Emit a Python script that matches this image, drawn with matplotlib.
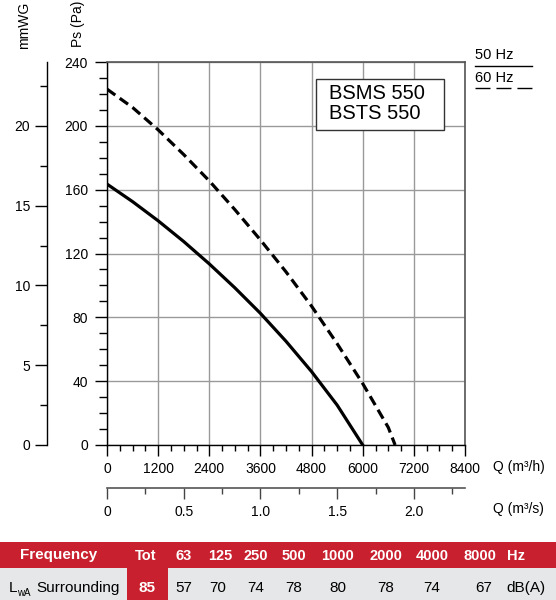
import matplotlib
matplotlib.use("Agg")
import matplotlib.pyplot as plt
from matplotlib.lines import Line2D
from matplotlib.patches import Rectangle
from matplotlib.ticker import MultipleLocator, FixedLocator

plt.rcParams['font.family'] = ['Liberation Sans', 'DejaVu Sans']

# ---- data ----
q_50hz = [0, 600, 1200, 1800, 2400, 3000, 3600, 4200, 4800, 5400, 6000]
ps_50hz = [163.5, 152.5, 140.5, 127.5, 113.5, 98.5, 82.5, 65, 46, 25, 0]
q_60hz = [0, 600, 1200, 1800, 2400, 3000, 3600, 4200, 4800, 5400, 6000, 6600, 6760]
ps_60hz = [223, 211.5, 197.5, 182, 165.5, 147.5, 128.5, 108.5, 87, 63.5, 38.5, 11, 0]

model_names = ["BSMS 550", "BSTS 550"]
legend_labels = ["50 Hz", "60 Hz"]

freq_labels = ["63", "125", "250", "500", "1000", "2000", "4000", "8000"]
lwa_values = [57, 70, 74, 78, 80, 78, 74, 67]
lwa_total = 85

W, H = 556, 600
fig = plt.figure(figsize=(W / 100, H / 100), dpi=100)


def fx(x):
    return x / W


def fy(y):
    return 1 - y / H


# ---- main axes ----
ax = fig.add_axes([fx(107), fy(445), 358 / W, 383 / H])
ax.plot(q_50hz, ps_50hz, color='black', lw=2.3, solid_joinstyle='round', zorder=3)
ax.plot(q_60hz, ps_60hz, color='black', lw=2.3, linestyle=(0, (3.2, 1.7)), zorder=3)
ax.set_xlim(0, 8400)
ax.set_ylim(0, 240)
ax.xaxis.set_major_locator(MultipleLocator(1200))
ax.xaxis.set_minor_locator(MultipleLocator(300))
ax.yaxis.set_major_locator(MultipleLocator(40))
ax.yaxis.set_minor_locator(MultipleLocator(10))
ax.grid(True, which='major', color='#9a9a9a', lw=1.0)
ax.set_axisbelow(True)
ax.tick_params(axis='y', which='major', length=8.6, width=1.0, pad=5, labelsize=10)
ax.tick_params(axis='y', which='minor', length=6, width=1.0)
ax.tick_params(axis='x', which='major', length=8, width=1.0, pad=4, labelsize=10)
ax.tick_params(axis='x', which='minor', length=4.5, width=1.0)
for s in ['left', 'bottom']:
    ax.spines[s].set_color('black')
    ax.spines[s].set_linewidth(1.0)
for s in ['top', 'right']:
    ax.spines[s].set_color('#555555')
    ax.spines[s].set_linewidth(1.2)

# model box
ax.add_patch(Rectangle((0.583, 0.8225), 0.3584, 0.1331, transform=ax.transAxes,
                       facecolor='white', edgecolor='#333333', lw=1.0, zorder=4))
fig.text(fx(329), fy(93.5), model_names[0], fontsize=14.5, ha='left', va='center', zorder=5)
fig.text(fx(329), fy(113.5), model_names[1], fontsize=14.5, ha='left', va='center', zorder=5)

# secondary y axis (mmWG)
sy = ax.secondary_yaxis((47 - 107) / 358, functions=(lambda p: p / 10, lambda m: m * 10))
sy.yaxis.set_major_locator(FixedLocator([0, 5, 10, 15, 20]))
sy.yaxis.set_minor_locator(FixedLocator([2.5, 7.5, 12.5, 17.5, 22.5]))
sy.tick_params(which='major', length=8.6, width=1.0, pad=3.5, labelsize=10)
sy.tick_params(which='minor', length=5, width=1.0)
sy.spines['left'].set_linewidth(1.0)

# secondary x axis (m3/s)
sx = ax.secondary_xaxis((488 - 445) / -383, functions=(lambda q: q / 3600, lambda s: s * 3600))
sx.xaxis.set_major_locator(FixedLocator([0, 0.5, 1.0, 1.5, 2.0]))
sx.xaxis.set_minor_locator(FixedLocator([0.25, 0.75, 1.25, 1.75, 2.25]))
sx.set_xticklabels(['0', '0.5', '1.0', '1.5', '2.0'])
sx.tick_params(which='major', length=8, width=1.0, pad=4.3, labelsize=10, color='#444444')
sx.tick_params(which='minor', length=4.5, width=1.0, color='#444444')
sx.spines['bottom'].set_color('#555555')
sx.spines['bottom'].set_linewidth(1.2)

# axis titles
fig.text(fx(78), fy(23.5), 'Ps (Pa)', rotation=90, fontsize=10, ha='center', va='center')
fig.text(fx(24), fy(25), 'mmWG', rotation=90, fontsize=10, ha='center', va='center')
fig.text(fx(493), fy(467), 'Q (m³/h)', fontsize=10, ha='left', va='center')
fig.text(fx(493), fy(509.5), 'Q (m³/s)', fontsize=10, ha='left', va='center')

# legend
fig.text(fx(475), fy(55), legend_labels[0], fontsize=10.5, ha='left', va='center')
fig.add_artist(Line2D([fx(475), fx(532)], [fy(65.7)] * 2, color='black', lw=1.0))
fig.text(fx(475), fy(77.5), legend_labels[1], fontsize=10.5, ha='left', va='center')
fig.add_artist(Line2D([fx(475), fx(532)], [fy(88.3)] * 2, color='black', lw=1.0,
                      linestyle=(0, (10.8, 4.3))))

# ---- table ----
tax = fig.add_axes([0, 0, 1, 60 / H])
tax.set_xlim(0, W)
tax.set_ylim(600, 540)
tax.axis('off')
red = '#C8202E'
grey = '#E6E7E8'
tax.add_patch(Rectangle((0, 541.5), W, 567.5 - 541.5, facecolor=red, edgecolor='none'))
tax.add_patch(Rectangle((0, 567.5), W, 600 - 567.5, facecolor=grey, edgecolor='none'))
tax.add_patch(Rectangle((127, 541.5), 168.3 - 127, 600 - 541.5, facecolor=red, edgecolor='none'))

hy = 555.5
ry = 588
tax.text(59, hy, 'Frequency', color='white', fontsize=11, fontweight='bold',
         ha='center', va='center')
tax.text(145.5, hy, 'Tot', color='white', fontsize=10.5, fontweight='bold', ha='center', va='center')
hx = [184, 219.8, 256, 294, 338, 386, 432, 480]
for x, lab in zip(hx, freq_labels):
    tax.text(x, hy, lab, color='white', fontsize=10.5, fontweight='bold', ha='center', va='center')
tax.text(516, hy, 'Hz', color='white', fontsize=10.5, fontweight='bold', ha='center', va='center')

tax.text(8.3, ry, 'L', fontsize=11, ha='left', va='center')
tax.text(17, 593.5, 'wA', fontsize=7, ha='left', va='center')
tax.text(36.7, ry, 'Surrounding', fontsize=11, ha='left', va='center')
tax.text(147.3, ry, str(lwa_total), color='white', fontsize=11, fontweight='bold',
         ha='center', va='center')
rx = [184, 217.7, 256, 294, 338, 386, 432, 483.8]
for x, v in zip(rx, lwa_values):
    tax.text(x, ry, str(v), fontsize=11, ha='center', va='center')
tax.text(525.7, ry, 'dB(A)', fontsize=11, ha='center', va='center')

fig.savefig('out.png', dpi=100)
